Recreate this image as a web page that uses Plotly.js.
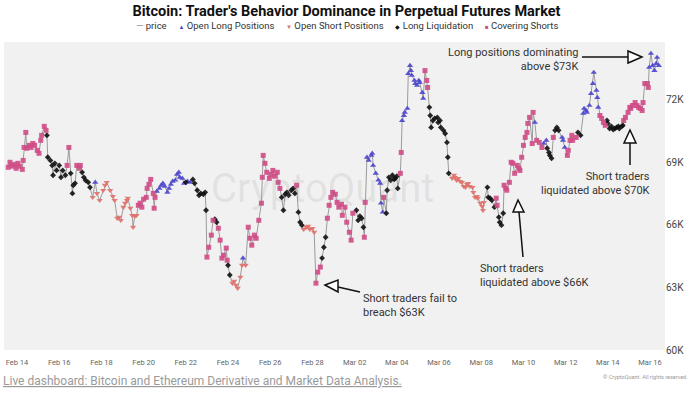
<!DOCTYPE html>
<html>
<head>
<meta charset="utf-8">
<script src="https://cdn.plot.ly/plotly-3.0.1.min.js"></script>
<style>html,body{margin:0;padding:0;background:#fff;}#chart{width:700px;height:395px;}</style>
</head>
<body>
<div id="chart"></div>
<script>
// Hours since 2023-02-14 00:00 (reference x-axis labels run Feb 14 .. Mar 16 at 2-day steps)
const hours = [
-10,-8,-6,-3,-1,1,3,6,7,8,
10,11,14,16,18,20,23,25,27,28,
31,33,34,35,38,40,41,43,45,48,
50,52,55,57,59,61,63,64,66,68,
71,72,74,76,78,81,83,86,89,91,
94,98,100,102,106,109,111,114,116,118,
121,123,125,126,129,131,132,134,136,138,
140,142,144,147,148,150,152,155,156,157,
159,162,164,166,168,171,173,175,177,180,
182,184,185,188,190,192,194,197,200,202,
205,207,209,212,214,215,216,218,221,223,
225,227,229,231,233,235,238,239,240,242,
245,247,249,251,254,256,257,260,263,265,
267,270,272,275,278,279,280,282,284,287,
289,291,293,296,297,299,301,303,305,307,
309,312,314,316,318,320,322,324,326,329,
331,333,336,338,340,342,345,347,349,351,
353,355,357,359,362,364,366,369,370,373,
375,378,380,382,386,388,390,392,394,395,
396,398,400,403,404,405,408,411,413,414,
416,417,420,421,423,425,427,429,430,432,
433,436,437,438,440,441,444,445,447,448,
449,452,453,455,457,458,461,462,464,466,
467,469,470,471,473,475,478,479,481,482,
485,487,489,490,491,495,497,498,500,502,
504,506,508,510,512,513,515,518,519,521,
523,524,527,529,530,531,535,536,538,540,
543,545,546,548,549,551,553,554,556,557,
560,562,564,566,569,571,572,574,576,578,
580,581,583,586,587,589,591,594,597,599,
602,603,605,606,608,610,612,614,616,620,
621,623,626,627,629,631,632,636,638,641,
644,645,647,648,651,653,655,656,659,660,
661,663,665,667,669,671,672,674,676,678,
680,682,684,685,688,689,690,692,695,697,
698,700,703,705,707,709,711,712,714,717,
718,719,721,723,725,727,728,730
];

const prices = [
68750,68990,68800,68890,68700,68940,68800,68650,69080,69700,
70420,69660,69800,69700,69890,69800,69560,69420,70040,70280,
70710,70520,70280,69230,69080,68840,68370,68940,68600,68840,
68270,68600,68370,68840,69700,68460,67500,67890,67980,68840,
68700,68840,68510,68270,68130,68030,67790,67310,68030,67500,
67170,67650,67890,68030,67650,67360,67170,66310,66360,66210,
66840,67030,67170,67270,66790,66450,65880,66410,66450,66930,
67030,66840,67220,67310,67740,67930,68170,67500,66790,67310,
67600,67740,67890,67980,67840,67550,67740,67930,68080,68130,
68410,68510,68270,68220,67980,68030,68080,68030,68170,67980,
67650,67410,67500,67460,67550,66690,64450,64920,65500,66210,
66260,66120,65830,65260,64400,64540,64880,64300,64060,63590,
63200,63300,63110,62960,63490,64060,64400,64060,65880,65350,
65020,65500,65350,66210,67030,68270,69320,68940,68510,68220,
68410,68600,68320,68510,68030,67740,67310,66690,67460,67550,
67410,67650,67740,67500,67890,66600,66120,65980,65780,65880,
65930,65780,65830,65640,63200,63730,63970,64400,64920,65400,
66310,66930,67310,67550,67460,67070,66840,66980,66450,66840,
66120,65640,65260,66550,66690,66210,66410,66310,65880,65400,
67070,69230,69080,69320,69420,68840,68460,68130,67980,67030,
66600,67310,66550,67650,68270,68130,68370,68170,68220,68320,
67740,68460,69460,70990,71230,71380,71570,73240,73620,73380,
73150,72910,72760,72670,72910,72810,72330,72050,73380,72910,
72570,71620,71230,70660,70990,71090,71140,70900,70990,70660,
70520,70370,69940,69230,68460,68220,68370,68270,68130,68220,
68080,68030,67840,67790,67930,67980,67840,67790,67550,67310,
67360,67270,67030,66880,66690,67070,67790,67310,67270,67170,
66840,67270,66930,66360,66120,65980,66550,67890,67740,67650,
68030,68990,68940,68460,68840,68700,68600,69230,69800,70180,
70420,70850,71140,69890,71380,70900,70040,69940,69700,69890,
70040,69660,69460,69320,69180,70180,70520,70660,70520,70180,
70040,69700,69320,69560,70040,70280,70040,70180,70420,70280,
71330,71570,71470,71380,71710,72280,72760,73290,72430,72090,
71620,71230,71090,70900,70760,70990,70850,70610,70710,70560,
70610,70660,70710,70610,70710,70760,70990,71140,71380,71620,
71570,71710,71850,71710,71620,71570,71470,71850,72760,72760,
72570,73530,74200,73620,73380,73720,74010,73620
];

// C = Covering Shorts, Q = Long Liquidation, L = Open Long Positions, S = Open Short Positions
const behavior = (
"CCCCCCCCCC" + "CCCCCCCCCC" + "CCQQQQQQQQ" + "QQQCCQQQQC" + "CCQQQQQSLS" +
"SSSSSSSSSS" + "SSSSSSSSSC" + "CCCCCCCCCC" + "LLLLLLLLLL" + "LLLLLQLLQQ" +
"QQQQQQCCCC" + "QQCCCCCCQQ" + "SSSSSSLSCC" + "CCCCCCCCCC" + "CCCCCCQQQQ" +
"QQQQCQQQSS" + "SSSSCCCQQQ" + "CCCCCCCCCC" + "CCCCQQQQQC" + "CLLLLLLLLL" +
"LCQQQQQQQQ" + "QCCLLLLLLL" + "LLLLLLLLCC" + "CQQQQQQQQQ" + "QQQQQSSSSS" +
"SSSSSSSSSS" + "SSSSSSQQQQ" + "QCCQQQQCCC" + "CCCCCCCCCC" + "CCCCCLCCCL" +
"LQQQQCQQQL" + "LLCCCCCCQQ" + "LLLLLLLLLL" + "LCCCCQQQQQ" + "QQQQQQCCCC" +
"CCCCCCCCCC" + "CLLLLLLL"
).split('');

const tickDates = ["2023-02-14","2023-02-16","2023-02-18","2023-02-20","2023-02-22","2023-02-24","2023-02-26","2023-02-28",
  "2023-03-02","2023-03-04","2023-03-06","2023-03-08","2023-03-10","2023-03-12","2023-03-14","2023-03-16"];
const yTickVals = [60000, 63000, 66000, 69000, 72000];
const yTickText = ["60K", "63K", "66K", "69K", "72K"];

const seriesOrder = ['L', 'S', 'Q', 'C'];
const seriesNames = {L: "Open Long Positions", S: "Open Short Positions", Q: "Long Liquidation", C: "Covering Shorts"};

// ---------- rendering ----------
const base = Date.UTC(2023, 1, 14);
function toDate(h) {
  const d = new Date(base + h * 3600000);
  return d.toISOString().slice(0, 16).replace('T', ' ');
}
const dates = hours.map(toDate);

const styles = {
  L: {symbol: 'triangle-up', color: '#4b45cf', size: 5.5, glyph: '▲'},
  S: {symbol: 'triangle-down', color: '#e0706a', size: 5.5, glyph: '▼'},
  Q: {symbol: 'diamond', color: '#111111', size: 4.5, glyph: '◆'},
  C: {symbol: 'square', color: '#cf4c86', size: 5, glyph: '■'}
};

const traces = [{
  type: 'scatter', mode: 'lines', name: 'price',
  x: dates, y: prices,
  line: {color: '#9b9b9b', width: 1}
}];
seriesOrder.forEach(k => {
  const xs = [], ys = [];
  behavior.forEach((b, i) => { if (b === k) { xs.push(dates[i]); ys.push(prices[i]); } });
  const st = styles[k];
  traces.push({
    type: 'scatter', mode: 'markers', name: seriesNames[k],
    x: xs, y: ys,
    marker: {symbol: st.symbol, color: st.color, size: st.size, opacity: 0.9, line: {width: 0}}
  });
});

// layout helpers (pixel -> paper)
const M = {l: 4, r: 35, t: 42, b: 45};
const PW = 700 - M.l - M.r, PH = 395 - M.t - M.b;
const px = v => (v - M.l) / PW;
const py = v => (395 - M.b - v) / PH;

function arrowShapes(line, tip, b1, b2) {
  return [
    {type: 'line', xref: 'paper', yref: 'paper', x0: px(line[0]), y0: py(line[1]), x1: px(line[2]), y1: py(line[3]),
     line: {color: '#111', width: 1.5}},
    {type: 'path', xref: 'paper', yref: 'paper',
     path: `M ${px(tip[0])},${py(tip[1])} L ${px(b1[0])},${py(b1[1])} L ${px(b2[0])},${py(b2[1])} Z`,
     fillcolor: '#ffffff', line: {color: '#111', width: 1.5}}
  ];
}

const shapes = [].concat(
  arrowShapes([582, 57, 628, 57], [642, 57], [628, 51], [628, 63]),
  arrowShapes([630, 165, 630, 143], [630, 130], [624, 143], [636, 143]),
  arrowShapes([519, 212, 523, 257], [518, 200], [513, 212], [524, 212]),
  arrowShapes([338, 287, 360, 292], [325, 285], [338, 280], [338, 292])
);

// legend row (drawn as text, like the reference's compact legend)
const gap = '&nbsp;&nbsp;&nbsp;&nbsp;&nbsp;';
let legendText = '<span style="color:#8a8a8a">—</span> price';
seriesOrder.forEach(k => {
  legendText += gap + `<span style="color:${styles[k].color};font-size:6px">${styles[k].glyph}</span> ` + seriesNames[k];
});

const noteFont = {family: 'Roboto, Arial, sans-serif', size: 11, color: '#333'};
const annotations = [
  {xref: 'paper', yref: 'paper', x: px(347), y: py(26), xanchor: 'center', yanchor: 'middle',
   text: legendText, showarrow: false, font: {family: 'Roboto, Arial, sans-serif', size: 9.5, color: '#333'}},
  {xref: 'paper', yref: 'paper', x: px(580), y: py(59), xanchor: 'right', yanchor: 'middle', align: 'right',
   text: 'Long positions dominating<br>above $73K', showarrow: false, font: noteFont},
  {xref: 'paper', yref: 'paper', x: px(652), y: py(183), xanchor: 'right', yanchor: 'middle', align: 'right',
   text: 'Short traders<br>liquidated above $70K', showarrow: false, font: noteFont},
  {xref: 'paper', yref: 'paper', x: px(478), y: py(275), xanchor: 'left', yanchor: 'middle', align: 'left',
   text: 'Short traders<br>liquidated above $66K', showarrow: false, font: noteFont},
  {xref: 'paper', yref: 'paper', x: px(361), y: py(305), xanchor: 'left', yanchor: 'middle', align: 'left',
   text: 'Short traders fail to<br>breach $63K', showarrow: false, font: noteFont},
  {xref: 'paper', yref: 'paper', x: px(322), y: py(188), xanchor: 'center', yanchor: 'middle',
   text: 'CryptoQuant', showarrow: false,
   font: {family: 'Roboto, Arial, sans-serif', size: 40, color: 'rgba(120,120,120,0.13)'}},
  {xref: 'paper', yref: 'paper', x: px(1), y: py(381), xanchor: 'left', yanchor: 'middle', align: 'left',
   text: '<span style="text-decoration:underline">Live dashboard: Bitcoin and Ethereum Derivative and Market Data Analysis.</span>',
   showarrow: false, font: {family: 'Roboto, Arial, sans-serif', size: 12, color: '#9a9a9a'}},
  {xref: 'paper', yref: 'paper', x: px(690), y: py(377), xanchor: 'right', yanchor: 'middle',
   text: '© CryptoQuant. All rights reserved.', showarrow: false,
   font: {family: 'Roboto, Arial, sans-serif', size: 5.5, color: '#999'}}
];

const layout = {
  width: 700, height: 395,
  margin: M,
  paper_bgcolor: '#ffffff',
  plot_bgcolor: '#f1f1f1',
  font: {family: 'Roboto, Arial, sans-serif', color: '#333'},
  title: {text: "<b>Bitcoin: Trader's Behavior Dominance in Perpetual Futures Market</b>",
          x: 0.495, xanchor: 'center', yref: 'container', y: 1 - 11 / 395, yanchor: 'middle',
          font: {family: 'Roboto, Arial, sans-serif', size: 14.5, color: '#111'}},
  showlegend: false,
  xaxis: {type: 'date', range: [toDate(-14.8), toDate(737)],
          tickvals: tickDates, tickformat: '%b %d', ticks: '', showgrid: false, zeroline: false,
          showline: false, ticklabelstandoff: 6, tickfont: {size: 7.5, color: '#666'}},
  yaxis: {side: 'right', range: [60000, 74750], tickvals: yTickVals, ticktext: yTickText,
          showgrid: false, zeroline: false, showline: false, ticks: '',
          tickfont: {size: 10, color: '#444'}},
  shapes: shapes,
  annotations: annotations
};

Plotly.newPlot('chart', traces, layout, {displayModeBar: false, staticPlot: true});
</script>
</body>
</html>
